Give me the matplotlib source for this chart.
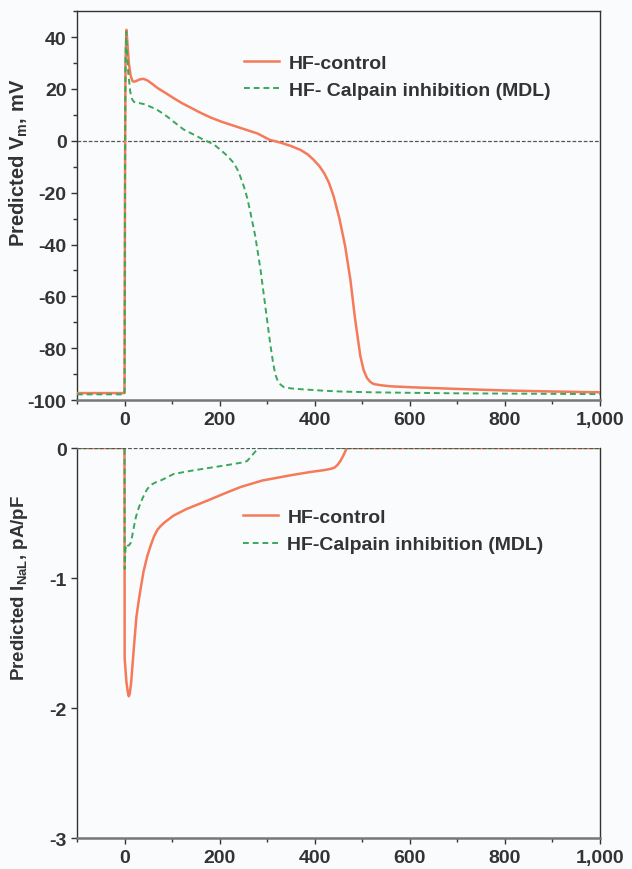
import numpy as np
import matplotlib
matplotlib.use('Agg')
import matplotlib.pyplot as plt
from matplotlib.ticker import MultipleLocator, FuncFormatter

plt.rcParams['font.family'] = ['Liberation Sans', 'DejaVu Sans']
plt.rcParams['font.weight'] = 'bold'
plt.rcParams['axes.labelweight'] = 'bold'
plt.rcParams['axes.unicode_minus'] = False
plt.rcParams['mathtext.fontset'] = 'custom'
plt.rcParams['mathtext.rm'] = 'Liberation Sans:bold'
plt.rcParams['mathtext.it'] = 'Liberation Sans:bold'
plt.rcParams['mathtext.bf'] = 'Liberation Sans:bold'

# membrane potential, mV
t_vm_ctrl = [-100, -0.5, 0, 1, 2, 4, 6, 9, 13, 17, 20, 25, 32, 40, 48, 58, 70, 85, 103, 120, 139,
             160, 181, 205, 230, 255, 280, 305, 330, 350, 370, 385, 397, 410, 420, 430, 440, 452, 464,
             475, 485, 496, 503, 510, 517, 524, 540, 560, 608, 700, 800, 900, 1000]
vm_ctrl = [-97.3, -97.3, -97.3, -20, 30, 42.8, 38, 30, 25, 23, 22.8, 23.1, 23.7, 23.9, 23.3, 22, 20.3,
           18.6, 16.5, 14.6, 12.8, 10.8, 9.0, 7.3, 5.8, 4.3, 2.8, 0.4, -0.8, -2.0, -3.5, -5.2, -7.2,
           -9.8, -12.5, -16.2, -21.5, -30, -40.6, -53.5, -68.8, -83, -88.5, -91.5, -93, -93.8, -94.3,
           -94.7, -95.1, -95.7, -96.3, -96.7, -97]
t_vm_mdl = [-100, -0.5, 0, 1, 2, 3.5, 5, 8, 12, 16, 20, 25, 32, 40, 50, 60, 69, 80, 90, 103, 115,
            124, 139, 150, 160, 170, 181, 192, 202, 215, 230, 240, 251, 258, 265, 275, 286, 296,
            307, 312, 317, 322, 328, 335, 350, 370, 420, 454, 520, 600, 700, 800, 900, 1000]
vm_mdl = [-97.8, -97.8, -97.8, -20, 30, 42, 36, 26, 19, 16, 15, 14.6, 14.5, 14.2, 13.5, 12.7, 11.9,
          10.6, 9.3, 7.4, 5.7, 4.4, 3.0, 2.0, 1.0, 0.1, -0.8, -2.0, -3.5, -5.6, -8.6, -12, -17.6,
          -22, -27.8, -36.8, -49.6, -63.7, -79, -85, -90, -92.5, -94, -95, -95.5, -95.8, -96.4,
          -96.7, -97.0, -97.2, -97.4, -97.5, -97.6, -97.7]

# late sodium current, pA/pF
t_inal_ctrl = [-100, 0, 0.3, 2, 4, 7, 9, 11, 14, 17, 20, 25, 30, 34, 40, 48, 55, 62, 69, 76, 85,
               103, 130, 174, 210, 244, 290, 349, 390, 420, 434, 442, 448, 454, 460, 465, 468, 1000]
inal_ctrl = [0, 0, -1.62, -1.7, -1.8, -1.88, -1.91, -1.89, -1.8, -1.66, -1.52, -1.3, -1.17, -1.08,
             -0.95, -0.83, -0.75, -0.68, -0.63, -0.6, -0.57, -0.52, -0.47, -0.405, -0.35, -0.30,
             -0.25, -0.21, -0.185, -0.17, -0.16, -0.15, -0.13, -0.1, -0.06, -0.02, 0, 0]
t_inal_mdl = [-100, 0, 0.3, 2, 4, 6, 9, 13, 16, 19, 24, 29, 34, 40, 47, 55, 65, 76, 90, 103, 140,
              174, 210, 250, 258, 265, 272, 278, 282, 1000]
inal_mdl = [0, 0, -0.93, -0.78, -0.74, -0.75, -0.75, -0.73, -0.68, -0.62, -0.53, -0.47, -0.42,
            -0.37, -0.32, -0.285, -0.265, -0.25, -0.225, -0.2, -0.175, -0.155, -0.135, -0.11, -0.1,
            -0.07, -0.04, -0.015, 0, 0]

red = '#f47a5a'
green = '#3aa85a'
dark = '#333333'
bg = '#fafbfd'

fig = plt.figure(figsize=(6.32, 8.70), dpi=100, facecolor=bg)
ax1 = fig.add_axes([0.1218, 0.539, 0.8275, 0.447], facecolor=bg)
ax2 = fig.add_axes([0.1218, 0.0356, 0.8275, 0.4483], facecolor=bg)

comma = FuncFormatter(lambda v, p: '{:,.0f}'.format(v))

def style(ax):
    ax.set_xlim(-100, 1000)
    ax.xaxis.set_major_locator(MultipleLocator(200))
    ax.xaxis.set_minor_locator(MultipleLocator(100))
    ax.xaxis.set_major_formatter(comma)
    ax.tick_params(which='both', direction='out', colors=dark, labelsize=14, length=4, width=1)
    ax.tick_params(which='minor', length=3)
    ax.tick_params(axis='x', pad=4)
    for lab in ax.get_xticklabels() + ax.get_yticklabels():
        lab.set_fontweight('bold')
    for s in ax.spines.values():
        s.set_color(dark)
        s.set_linewidth(1.0)
    ax.spines['bottom'].set_color('#777777')
    ax.spines['bottom'].set_linewidth(1.8)

legend_kw = dict(loc='upper left', frameon=False, handlelength=1.8, handletextpad=0.5,
                 labelspacing=0.5, borderpad=0, borderaxespad=0, labelcolor=dark,
                 prop={'size': 14, 'weight': 'bold'})

# top panel
ax1.axhline(0, color='#555555', lw=0.9, ls=(0, (3, 1.5)), zorder=1)
ax1.plot(t_vm_ctrl, vm_ctrl, color=red, lw=1.8, label='HF-control', zorder=3)
ax1.plot(t_vm_mdl, vm_mdl, color=green, lw=1.4, ls=(0, (3, 2)), label='HF- Calpain inhibition (MDL)', zorder=4)
ax1.set_ylim(-100, 50)
ax1.set_yticks([-100, -80, -60, -40, -20, 0, 20, 40])
ax1.yaxis.set_minor_locator(MultipleLocator(10))
style(ax1)
ax1.set_ylabel(r'Predicted V$_{\mathrm{m}}$, mV', fontsize=14.5, color=dark)
ax1.yaxis.set_label_coords(-0.09, 0.612)
ax1.legend(bbox_to_anchor=(0.32, 0.89), **legend_kw)

# bottom panel
ax2.plot(t_inal_ctrl, inal_ctrl, color=red, lw=1.8, label='HF-control', zorder=3)
ax2.plot(t_inal_mdl, inal_mdl, color=green, lw=1.4, ls=(0, (3, 2)), label='HF-Calpain inhibition (MDL)', zorder=4)
ax2.axhline(0, color='#555555', lw=0.9, ls=(0, (3, 1.5)), zorder=5)
ax2.set_ylim(-3, 0)
ax2.set_yticks([-3, -2, -1, 0])
style(ax2)
ax2.spines['top'].set_visible(False)
ax2.set_ylabel(r'Predicted I$_{\mathrm{NaL}}$, pA/pF', fontsize=13.5, color=dark)
ax2.yaxis.set_label_coords(-0.09, 0.644)
ax2.legend(bbox_to_anchor=(0.317, 0.845), **legend_kw)

fig.savefig('out.png', dpi=100, facecolor=bg)
